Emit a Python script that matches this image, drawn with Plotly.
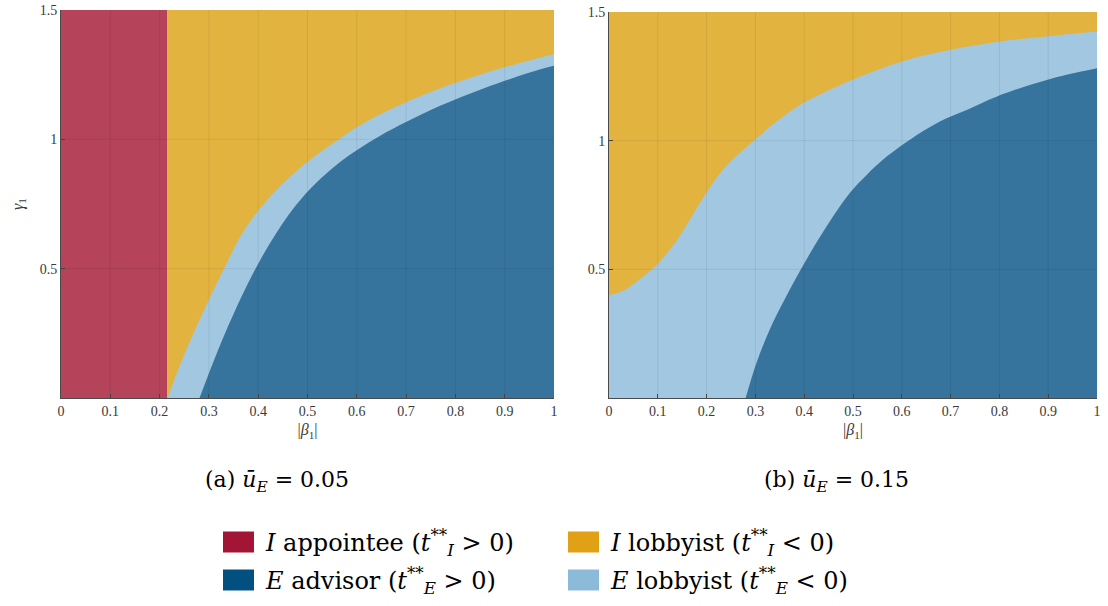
import plotly.graph_objects as go

# ---------------- data ----------------
x_ticks = [0, 0.1, 0.2, 0.3, 0.4, 0.5, 0.6, 0.7, 0.8, 0.9, 1.0]
x_tick_labels = ["0", "0.1", "0.2", "0.3", "0.4", "0.5", "0.6", "0.7", "0.8", "0.9", "1"]
y_ticks = [0.5, 1.0, 1.5]
y_tick_labels = ["0.5", "1", "1.5"]
x_max = 1.0
y_max = 1.5

# panel (a): u_E = 0.05
a_appointee_edge = 0.215
a_upper_x = [0.216, 0.243, 0.272, 0.328, 0.372, 0.424, 0.491, 0.559, 0.610, 0.667, 0.755, 0.870, 1.0]
a_upper_y = [0.0, 0.135, 0.264, 0.490, 0.650, 0.778, 0.900, 0.995, 1.058, 1.115, 1.187, 1.262, 1.330]
a_lower_x = [0.281, 0.306, 0.335, 0.385, 0.4375, 0.491, 0.566, 0.644, 0.701, 0.769, 0.857, 0.951, 1.0]
a_lower_y = [0.0, 0.125, 0.260, 0.465, 0.640, 0.778, 0.912, 1.010, 1.068, 1.130, 1.197, 1.258, 1.284]

# panel (b): u_E = 0.15
b_upper_x = [0.0, 0.032, 0.069, 0.100, 0.138, 0.186, 0.233, 0.302, 0.343, 0.391, 0.446, 0.500, 0.600, 0.698, 0.801, 0.904, 1.0]
b_upper_y = [0.400, 0.420, 0.471, 0.523, 0.610, 0.757, 0.886, 1.009, 1.074, 1.139, 1.192, 1.238, 1.308, 1.352, 1.385, 1.407, 1.424]
b_lower_x = [0.280, 0.302, 0.329, 0.363, 0.408, 0.459, 0.493, 0.528, 0.569, 0.616, 0.678, 0.733, 0.794, 0.897, 1.0]
b_lower_y = [0.0, 0.135, 0.264, 0.394, 0.549, 0.705, 0.796, 0.867, 0.938, 1.003, 1.074, 1.119, 1.171, 1.236, 1.281]

captions = ["(a) <i>ū</i><sub><i>E</i></sub> = 0.05", "(b) <i>ū</i><sub><i>E</i></sub> = 0.15"]
legend_names = [
    "<i>I</i> appointee (<i>t</i><sup>**</sup><sub><i>I</i></sub> > 0)",
    "<i>I</i> lobbyist (<i>t</i><sup>**</sup><sub><i>I</i></sub> < 0)",
    "<i>E</i> advisor (<i>t</i><sup>**</sup><sub><i>E</i></sub> > 0)",
    "<i>E</i> lobbyist (<i>t</i><sup>**</sup><sub><i>E</i></sub> < 0)",
]

# ---------------- styling ----------------
FILL_RED = "#B5435A"
FILL_YEL = "#E2B33F"
FILL_LBL = "#A1C7E1"
FILL_DBL = "#36749D"
LEG_COLORS = ["#A31535", "#E0A117", "#02507F", "#8CBBDA"]

W, H = 1108, 606


def px(x):
    return x / W


def py(y):
    return 1 - y / H


fig = go.Figure()


def area(xs, ys, color, xa, ya, name, shape="spline"):
    fig.add_trace(go.Scatter(
        x=xs, y=ys, fill="tozeroy", mode="lines",
        line=dict(width=0, color=color, shape=shape, smoothing=1.0),
        fillcolor=color, name=name, showlegend=False,
        hoverinfo="skip", xaxis=xa, yaxis=ya,
    ))


# panel (a) (stacked, back to front)
area([0, x_max], [y_max, y_max], FILL_YEL, "x", "y", "I lobbyist", "linear")
area(a_upper_x, a_upper_y, FILL_LBL, "x", "y", "E lobbyist")
area(a_lower_x, a_lower_y, FILL_DBL, "x", "y", "E advisor")
area([0, a_appointee_edge], [y_max, y_max], FILL_RED, "x", "y", "I appointee", "linear")

# panel (b)
area([0, x_max], [y_max, y_max], FILL_YEL, "x2", "y2", "I lobbyist", "linear")
area(b_upper_x, b_upper_y, FILL_LBL, "x2", "y2", "E lobbyist")
area(b_lower_x, b_lower_y, FILL_DBL, "x2", "y2", "E advisor")

tick_font = dict(family="Liberation Serif", size=14, color="#3a3a3a")
title_font = dict(family="Liberation Serif", size=16, color="#3a3a3a")
ax_common = dict(
    showgrid=False, zeroline=False, automargin=False, layer="above traces",
    showline=True, linecolor="#4a4a4a", linewidth=1, ticks="inside", ticklen=4,
    tickcolor="#4a4a4a", tickfont=tick_font, ticklabeloverflow="allow",
)

fig.update_layout(
    width=W, height=H, margin=dict(l=0, r=0, t=0, b=0),
    paper_bgcolor="white", plot_bgcolor="white", showlegend=False,
    xaxis=dict(domain=[px(61), px(554)], range=[0, x_max], tickvals=x_ticks, ticktext=x_tick_labels,
               anchor="y", title=dict(text="|<i>β</i><sub>1</sub>|", font=title_font, standoff=6),
               **ax_common),
    yaxis=dict(domain=[py(398), py(10)], range=[0, y_max], tickvals=y_ticks, ticktext=y_tick_labels,
               anchor="x", title=dict(text="<i>γ</i><sub>1</sub>", font=title_font, standoff=12),
               **ax_common),
    xaxis2=dict(domain=[px(609), px(1097)], range=[0, x_max], tickvals=x_ticks, ticktext=x_tick_labels,
                anchor="y2", title=dict(text="|<i>β</i><sub>1</sub>|", font=title_font, standoff=6),
                **ax_common),
    yaxis2=dict(domain=[py(398), py(12)], range=[0, y_max], tickvals=y_ticks, ticktext=y_tick_labels,
                anchor="x2", **ax_common),
)

# faint grid drawn above the filled regions (as in the original)
GRID = "rgba(0,0,0,0.07)"
for xr, yr in (("x", "y"), ("x2", "y2")):
    for t in x_ticks[1:-1]:
        fig.add_shape(type="line", xref=xr, yref=yr, x0=t, x1=t, y0=0, y1=y_max,
                      line=dict(color=GRID, width=1), layer="above")
    for t in y_ticks[:-1]:
        fig.add_shape(type="line", xref=xr, yref=yr, x0=0, x1=x_max, y0=t, y1=t,
                      line=dict(color=GRID, width=1), layer="above")

cap_font = dict(family="DejaVu Serif", size=22, color="black")
leg_font = dict(family="DejaVu Serif", size=24, color="black")
fig.add_annotation(text=captions[0], x=px(277), y=py(481), xref="paper", yref="paper",
                   showarrow=False, font=cap_font, xanchor="center", yanchor="middle")
fig.add_annotation(text=captions[1], x=px(836), y=py(481), xref="paper", yref="paper",
                   showarrow=False, font=cap_font, xanchor="center", yanchor="middle")

# manual legend (2 x 2)
col_x = [223, 568]
row_y = [542, 580]
for i, (name, col) in enumerate(zip(legend_names, LEG_COLORS)):
    cx = col_x[i % 2]
    ry = row_y[i // 2]
    fig.add_shape(type="rect", xref="paper", yref="paper",
                  x0=px(cx), x1=px(cx + 31), y0=py(ry + 10.5), y1=py(ry - 10.5),
                  fillcolor=col, line=dict(width=0))
    fig.add_annotation(text=name, x=px(cx + 40), y=py(ry), xref="paper", yref="paper",
                       showarrow=False, font=leg_font, xanchor="left", yanchor="middle")

# the page's default 8px body margin would push the 1108x606 figure off-screen
fig.write_html("out.html", config={"displayModeBar": False},
               post_script="document.body.style.margin='0px';")
